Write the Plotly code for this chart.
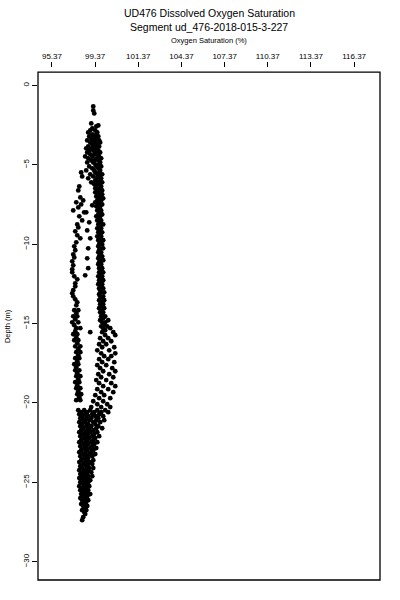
import plotly.graph_objects as go

# Depth (m) and oxygen saturation (%)
depth_m = [
    -1.32, -1.57, -1.76, -2.39, -2.52, -2.58, -2.71,
    -2.83, -2.83, -2.96, -2.96, -3.08, -3.08, -3.21, -3.21, -3.21, -3.34, -3.34,
    -3.46, -3.46, -3.46, -3.59, -3.59, -3.59, -3.71, -3.71, -3.84, -3.84, -3.84,
    -3.96, -3.96, -3.96, -4.09, -4.09, -4.09, -4.22, -4.22, -4.22, -4.34, -4.34, -4.34,
    -4.47, -4.47, -4.47, -4.59, -4.59, -4.59, -4.72, -4.72, -4.72, -4.85, -4.85, -4.85,
    -4.97, -4.97, -5.10, -5.10, -5.10, -5.22, -5.22, -5.35, -5.35, -5.35,
    -5.48, -5.48, -5.48, -5.60, -5.60, -5.60, -5.73, -5.73, -5.73, -5.85, -5.85, -5.85,
    -5.98, -5.98, -6.10, -6.10, -6.10, -6.23, -6.23, -6.36, -6.36, -6.36, -6.48, -6.48,
    -6.61, -6.61, -6.61,
    # right branch
    -6.73, -6.73, -6.86, -6.86, -6.99, -6.99, -7.11, -7.11, -7.24, -7.24, -7.36, -7.36,
    -7.49, -7.49, -7.61, -7.61, -7.74, -7.87, -7.87, -7.99, -8.12, -8.12, -8.24, -8.24,
    -8.37, -8.50, -8.50, -8.62, -8.75, -8.75, -8.87, -9.00, -9.00, -9.13, -9.25, -9.25,
    -9.38, -9.50, -9.50, -9.63, -9.75, -9.75, -9.88, -10.01, -10.01, -10.13, -10.26, -10.26,
    -10.38, -10.51, -10.51, -10.64, -10.76, -10.76, -10.89, -11.01, -11.01, -11.14,
    -11.26, -11.26, -11.39, -11.51, -11.51, -11.64, -11.77, -11.77, -11.89, -12.02, -12.02,
    -12.14, -12.27, -12.27, -12.40, -12.52, -12.52, -12.65, -12.78, -12.78, -12.90,
    -13.03, -13.03, -13.15, -13.28, -13.28, -13.40, -13.53, -13.53, -13.66, -13.78, -13.78,
    -13.91, -14.03, -14.03, -14.16, -14.29, -14.29, -14.41, -14.54, -14.54, -14.66,
    -14.79, -14.79, -14.92, -14.92, -15.04, -15.17, -15.17, -15.29, -15.29, -15.42,
    # middle points
    -7.99, -8.62, -9.13, -9.63, -10.26, -10.89, -11.51, -11.96, -15.54, -7.55,
    # left branch
    -7.05, -7.24, -7.36, -7.49, -7.68, -7.87, -7.99, -8.24, -8.50, -8.75, -8.94, -9.19,
    -9.44, -9.63, -9.88, -10.13, -10.38, -10.64, -10.83, -11.08, -11.33, -11.58, -11.77,
    -12.02, -12.21, -12.46, -12.65, -12.90, -13.09, -13.28, -13.47, -13.66, -13.85,
    -14.16, -14.16, -14.35, -14.54, -14.54, -14.73, -14.92, -14.92, -15.10, -15.29, -15.29,
    -15.48, -15.67, -15.67, -15.86, -16.05, -16.05, -16.24, -16.43, -16.43, -16.61,
    -16.80, -16.80, -16.99, -17.18, -17.18, -17.37, -17.56, -17.56, -17.75, -17.94, -17.94,
    -18.13, -18.31, -18.31, -18.50, -18.69, -18.69, -18.88, -19.07, -19.07, -19.26,
    -19.45, -19.45, -19.64, -19.82, -19.82,
    # right spread
    -15.54, -15.54, -15.73, -15.73, -15.92, -15.92, -16.11, -16.11, -16.30, -16.30,
    -16.49, -16.49, -16.68, -16.68, -16.87, -16.87, -17.05, -17.05, -17.24, -17.24,
    -17.43, -17.43, -17.62, -17.62, -17.81, -17.81, -18.00, -18.00, -18.19, -18.19,
    -18.38, -18.38, -18.56, -18.56, -18.75, -18.75, -18.94, -18.94, -19.13, -19.13,
    -19.32, -19.32, -19.51, -19.51, -19.70, -19.70, -19.89, -19.89, -20.08, -20.08,
    -20.26, -20.26, -20.26,
    # bottom cluster
    -20.45, -20.45, -20.45, -20.45, -20.45, -20.58, -20.58, -20.58, -20.58, -20.58,
    -20.71, -20.71, -20.71, -20.71, -20.83, -20.83, -20.83, -20.83,
    -20.96, -20.96, -20.96, -20.96, -21.08, -21.08, -21.08, -21.08,
    -21.21, -21.21, -21.21, -21.21, -21.33, -21.33, -21.33,
    -21.46, -21.46, -21.46, -21.46, -21.59, -21.59, -21.59, -21.59,
    -21.71, -21.71, -21.71, -21.84, -21.84, -21.84, -21.84, -21.96, -21.96, -21.96,
    -22.09, -22.09, -22.09, -22.09, -22.21, -22.21, -22.21, -22.34, -22.34, -22.34,
    -22.47, -22.47, -22.47, -22.47, -22.59, -22.59, -22.59, -22.72, -22.72, -22.72,
    -22.84, -22.84, -22.84, -22.97, -22.97, -22.97, -23.10, -23.10, -23.10,
    -23.22, -23.22, -23.22, -23.35, -23.35, -23.35, -23.47, -23.47,
    -23.60, -23.60, -23.60, -23.72, -23.72, -23.72, -23.85, -23.85, -23.85,
    -23.98, -23.98, -24.10, -24.10, -24.10, -24.23, -24.23, -24.23, -24.36, -24.36, -24.36,
    -24.48, -24.48, -24.61, -24.61, -24.61, -24.73, -24.73, -24.73, -24.86, -24.86, -24.86,
    -24.99, -24.99, -24.99, -25.11, -25.11, -25.24, -25.24, -25.24, -25.36, -25.36,
    -25.49, -25.49, -25.49, -25.61, -25.61, -25.74, -25.74, -25.74, -25.87, -25.87,
    -25.99, -25.99, -26.12, -26.12, -26.24, -26.24, -26.37, -26.37, -26.49, -26.49,
    -26.62, -26.75, -26.75, -26.87, -27.00, -27.19, -27.38,
]

oxygen_pct = [
    98.24, 98.24, 98.31, 98.10, 98.59, 98.45, 98.17,
    98.03, 98.38, 97.89, 98.52, 98.17, 98.45, 97.96, 98.31, 98.59, 98.10, 98.45,
    97.82, 98.24, 98.65, 98.03, 98.38, 98.72, 98.17, 98.52, 97.89, 98.31, 98.65,
    97.75, 98.10, 98.45, 97.96, 98.24, 98.59, 97.82, 98.38, 98.72, 98.03, 98.31, 98.52,
    97.68, 98.17, 98.65, 97.89, 98.45, 98.79, 98.10, 98.31, 98.59, 97.82, 98.24, 98.72,
    98.38, 98.65, 97.96, 98.45, 98.79, 98.17, 98.59, 97.75, 98.31, 98.72,
    97.40, 98.38, 98.65, 98.03, 98.52, 98.86, 97.47, 98.24, 98.65, 97.89, 98.45, 98.79,
    98.38, 98.72, 98.10, 98.52, 98.86, 98.31, 98.65, 97.27, 98.45, 98.79, 98.38, 98.72,
    97.20, 98.52, 98.86,
    # right branch
    98.38, 98.72, 98.59, 98.86, 98.45, 98.72, 98.65, 98.93, 98.52, 98.79, 98.38, 98.65,
    98.59, 98.86, 98.45, 98.72, 98.65, 98.52, 98.79, 98.72, 98.59, 98.86, 98.45, 98.72,
    98.65, 98.52, 98.79, 98.72, 98.59, 98.93, 98.72, 98.52, 98.79, 98.65, 98.59, 98.86,
    98.72, 98.52, 98.79, 98.65, 98.59, 98.93, 98.72, 98.65, 98.86, 98.59, 98.72, 98.93,
    98.65, 98.59, 98.79, 98.72, 98.65, 98.86, 98.59, 98.72, 98.93, 98.65,
    98.59, 98.79, 98.72, 98.65, 98.86, 98.79, 98.65, 98.93, 98.72, 98.59, 98.86,
    98.79, 98.65, 98.93, 98.72, 98.59, 98.86, 98.79, 98.65, 98.93, 98.72,
    98.79, 99.00, 98.65, 98.72, 98.93, 98.86, 98.65, 99.00, 98.79, 98.72, 98.93,
    98.86, 98.65, 99.00, 98.79, 98.72, 98.93, 98.86, 98.79, 99.07, 98.93,
    98.72, 99.28, 98.86, 99.07, 99.00, 98.79, 99.21, 98.93, 99.42, 99.07,
    # middle points
    97.75, 97.96, 97.82, 98.03, 97.89, 97.82, 97.89, 97.68, 98.03, 98.17,
    # left branch
    97.34, 97.54, 97.06, 97.40, 97.20, 96.85, 97.61, 97.27, 97.47, 97.13, 97.20, 96.99,
    97.13, 97.34, 97.06, 96.92, 96.99, 96.85, 96.92, 96.78, 96.85, 96.78, 96.78,
    96.92, 97.13, 96.99, 96.99, 96.85, 96.78, 96.85, 96.99, 97.13, 97.06,
    96.92, 97.20, 97.06, 96.85, 97.13, 96.99, 96.78, 97.20, 96.92, 97.06, 97.34,
    96.99, 96.85, 97.13, 97.06, 97.20, 96.92, 97.13, 97.34, 96.99, 97.20,
    97.06, 97.34, 97.20, 96.99, 97.27, 97.13, 96.92, 97.20, 97.06, 97.27, 96.99,
    97.13, 97.34, 97.06, 97.20, 96.99, 97.27, 97.13, 97.34, 97.06, 97.20,
    97.13, 97.40, 97.27, 97.06, 97.34,
    # right spread
    98.86, 99.63, 99.07, 99.77, 98.72, 99.28, 98.93, 99.49, 98.65, 99.14,
    98.86, 99.70, 98.52, 99.35, 98.79, 99.77, 99.00, 99.49, 98.65, 99.28,
    98.86, 99.70, 98.52, 99.14, 98.72, 99.56, 98.93, 99.77, 98.59, 99.35,
    98.79, 99.63, 98.45, 99.14, 98.65, 99.49, 98.93, 99.77, 98.52, 99.28,
    98.79, 99.63, 98.38, 99.00, 98.65, 99.42, 98.24, 98.93, 98.52, 99.21,
    98.10, 98.79, 99.42,
    # bottom cluster
    97.20, 97.61, 98.03, 98.52, 99.07, 97.40, 97.82, 98.31, 98.79, 99.28,
    97.27, 97.68, 98.17, 98.65, 97.47, 97.89, 98.38, 98.93,
    97.34, 97.75, 98.10, 98.59, 97.54, 97.96, 98.45, 99.00,
    97.27, 97.68, 98.24, 98.72, 97.47, 97.89, 98.38,
    97.34, 97.75, 98.10, 98.59, 97.54, 97.96, 98.45, 98.86,
    97.40, 97.82, 98.24, 97.27, 97.68, 98.03, 98.52, 97.54, 97.89, 98.31,
    97.34, 97.75, 98.17, 98.65, 97.61, 97.96, 98.38, 97.40, 97.82, 98.24,
    97.27, 97.68, 98.10, 98.52, 97.54, 97.89, 98.31, 97.34, 97.75, 98.17,
    97.61, 98.03, 98.45, 97.40, 97.82, 98.24, 97.27, 97.68, 98.10,
    97.54, 97.96, 98.38, 97.34, 97.75, 98.17, 97.61, 97.89,
    97.40, 97.82, 98.24, 97.27, 97.68, 98.03, 97.54, 97.89, 98.17,
    97.34, 97.75, 97.47, 97.96, 98.24, 97.27, 97.68, 97.89, 97.54, 97.82, 98.10,
    97.34, 97.68, 97.47, 97.89, 98.17, 97.27, 97.61, 97.82, 97.47, 97.75, 98.03,
    97.34, 97.61, 97.89, 97.54, 97.82, 97.27, 97.68, 97.96, 97.47, 97.75,
    97.34, 97.61, 97.89, 97.54, 97.82, 97.40, 97.68, 98.03, 97.54, 97.82,
    97.34, 97.68, 97.47, 97.89, 97.61, 97.75, 97.40, 97.68, 97.54, 97.82,
    97.68, 97.47, 97.75, 97.61, 97.68, 97.54, 97.47,
]

x_tick_values = [95.37, 98.37, 101.37, 104.37, 107.37, 110.37, 113.37, 116.37]
x_tick_labels = ["95.37", "99.37", "101.37", "104.37", "107.37", "110.37", "113.37", "116.37"]
y_tick_values = [0, -5, -10, -15, -20, -25, -30]

title_line1 = "UD476 Dissolved Oxygen Saturation"
title_line2 = "Segment ud_476-2018-015-3-227"
x_title = "Oxygen Saturation (%)"
y_title = "Depth (m)"

FONT = "Liberation Sans, Arial, sans-serif"

fig = go.Figure()
fig.add_trace(go.Scatter(
    x=oxygen_pct, y=depth_m, mode="markers",
    marker=dict(color="black", size=4.8, line=dict(width=0)),
    showlegend=False, hoverinfo="x+y",
))

fig.update_layout(
    width=400, height=600,
    margin=dict(l=38, r=20, t=67, b=20, autoexpand=False),
    paper_bgcolor="white", plot_bgcolor="white",
    font=dict(family=FONT, color="black", size=8),
    xaxis=dict(
        side="top", anchor="free", position=1, automargin=False,
        range=[94.40, 118.17], tickmode="array",
        tickvals=x_tick_values, ticktext=x_tick_labels,
        ticks="outside", ticklen=5, tickwidth=1, tickcolor="black",
        showgrid=False, zeroline=False, showline=False,
        tickfont=dict(size=8, family=FONT, color="black"),
    ),
    yaxis=dict(
        domain=[0, 0.990], automargin=False,
        range=[-31.15, 0.84], tickmode="array", tickvals=y_tick_values,
        ticks="outside", ticklen=5, tickwidth=1, tickcolor="black",
        tickangle=-90, showgrid=False, zeroline=False, showline=False,
        tickfont=dict(size=8, family=FONT, color="black"),
    ),
    shapes=[dict(type="rect", xref="x domain", yref="y domain",
                 x0=0, x1=1, y0=0, y1=1, line=dict(color="black", width=1.3))],
    annotations=[
        dict(text=title_line1, x=0.5, y=13, xref="x domain", yref="paper",
             showarrow=False, font=dict(size=10.5, family=FONT, color="black")),
        dict(text=title_line2, x=0.5, y=27, xref="x domain", yref="paper",
             showarrow=False, font=dict(size=10.5, family=FONT, color="black")),
        dict(text=x_title, x=0.5, y=40, xref="x domain", yref="paper",
             showarrow=False, font=dict(size=7.5, family=FONT, color="black")),
        dict(text=y_title, x=7, y=0.5, xref="paper", yref="y domain",
             showarrow=False, textangle=-90, font=dict(size=7.5, family=FONT, color="black")),
    ],
)

# annotations positioned in pixels -> convert to paper fractions
plot_w = 400 - 38 - 20
plot_h = 600 - 67 - 20
for a in fig.layout.annotations:
    if a.yref == "paper":
        a.y = 1 + (67 - a.y) / plot_h
        a.yanchor = "middle"
    if a.xref == "paper":
        a.x = (a.x - 38) / plot_w
        a.xanchor = "center"

fig.write_html("out.html",
               config={"displayModeBar": False},
               post_script="document.body.style.margin='0px';document.body.style.padding='0px';")
